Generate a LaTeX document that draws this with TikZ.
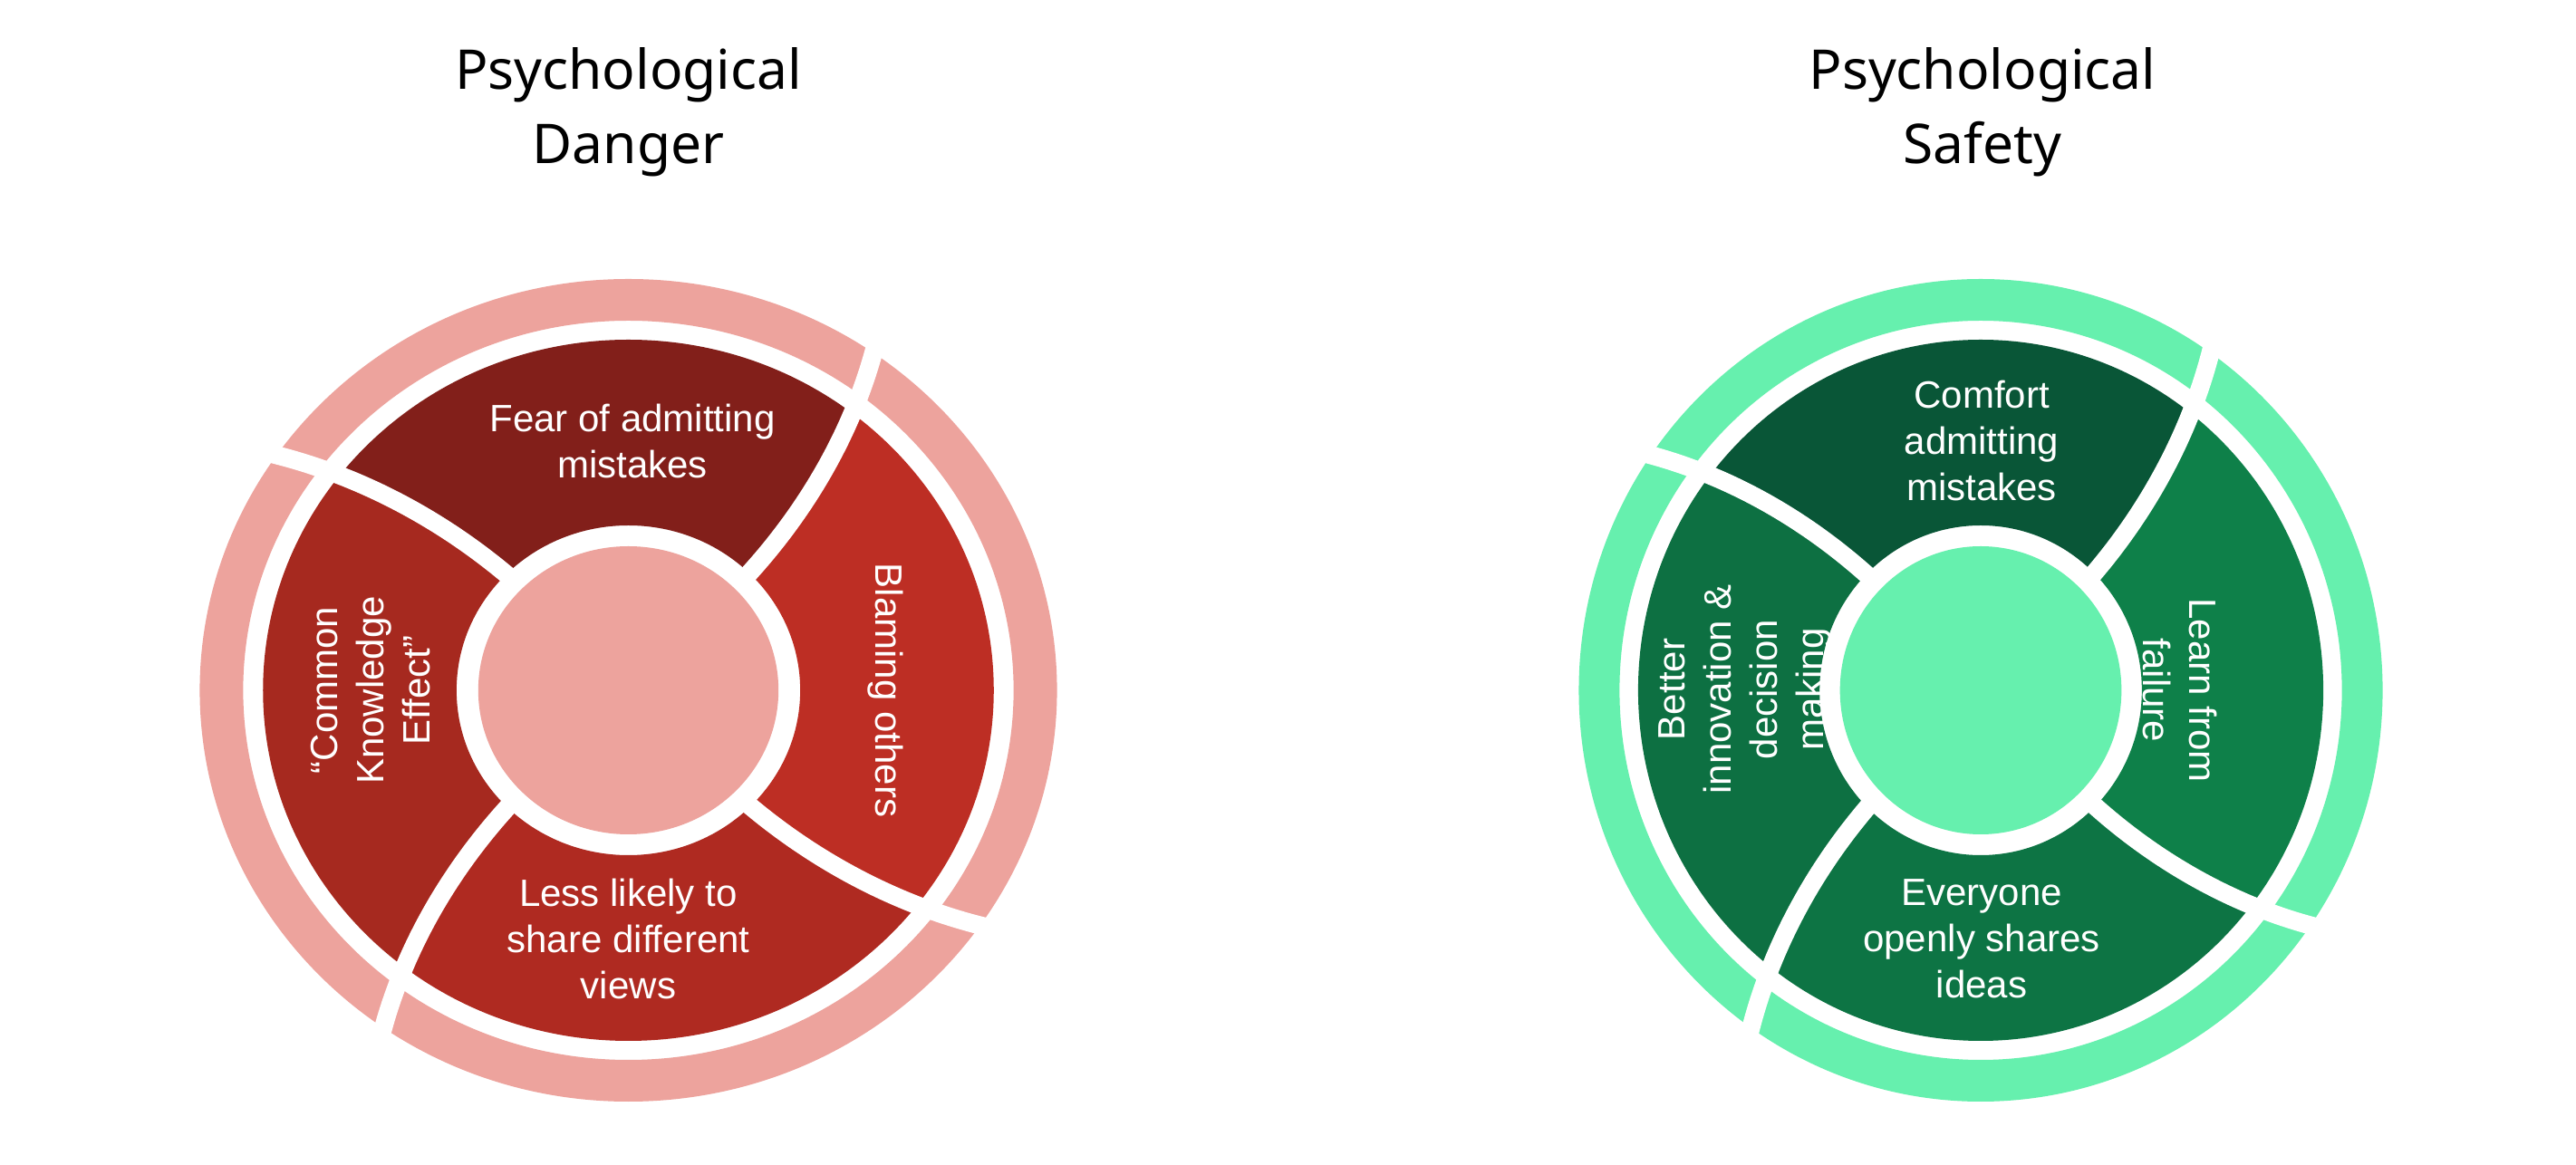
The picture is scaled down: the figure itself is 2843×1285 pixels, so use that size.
\documentclass[tikz,border=0pt]{standalone}
\usepackage{fontspec}
\newfontfamily\titlefont{Noto Sans}
\newfontfamily\segfont{Liberation Sans}
\definecolor{dlight}{HTML}{EDA39D}
\definecolor{dtop}{HTML}{821F1A}
\definecolor{dleft}{HTML}{A6291F}
\definecolor{dbottom}{HTML}{AF2A21}
\definecolor{dright}{HTML}{BD2E24}
\definecolor{slight}{HTML}{66F0AE}
\definecolor{stop}{HTML}{095637}
\definecolor{sleft}{HTML}{0D7042}
\definecolor{sbottom}{HTML}{0D7444}
\definecolor{sright}{HTML}{0E8049}
\newcommand\segpath[2]{\fill[#2] (0,0) -- (#1:175) .. controls (#1+1.07:272.1) and (#1+5.25:372.5) .. (#1+10.5:462) arc[start angle=#1+10.5, end angle=#1+100.5, radius=462] .. controls (#1+95.25:372.5) and (#1+91.07:272.1) .. (#1+90:175) -- cycle;}
\newcommand\divpath[1]{\draw[divider] (#1:168) .. controls (#1+1.07:272.1) and (#1+5.25:372.5) .. (#1+10.5:462) -- ++(#1+31:22);}
\newcommand\mywheel[5]{%
  \fill[#1, even odd rule] (0,0) circle[radius=454] (0,0) circle[radius=408];
  \begin{scope}[even odd rule]
    \clip (0,0) circle[radius=387] (0,0) circle[radius=182];
    \segpath{45}{#2}
    \segpath{135}{#3}
    \segpath{225}{#4}
    \segpath{315}{#5}
  \end{scope}
  \fill[#1] (0,0) circle[radius=159];
  \foreach \t in {45,135,225,315} {\divpath{\t}}
}
\begin{document}
\begin{tikzpicture}[x=0.01cm,y=0.01cm,
  divider/.style={draw=white, line width=5.7pt},
  segtext/.style={text=white, font=\segfont\fontsize{11.95}{14.5}\selectfont, align=center, inner sep=0pt},
  titletext/.style={text=black, font=\titlefont\fontsize{17.2}{23.3}\selectfont, align=center, inner sep=0pt}]
\useasboundingbox (0,0) rectangle (2843,1285);
\fill[white] (0,0) rectangle (2843,1285);

\begin{scope}[shift={(693.5,523)}, xscale=1.042]
  \mywheel{dlight}{dtop}{dleft}{dbottom}{dright}
\end{scope}
\begin{scope}[shift={(2186,523)}, xscale=0.977]
  \mywheel{slight}{stop}{sleft}{sbottom}{sright}
\end{scope}

\node[titletext] (t1) at (693.5,1161) {Psychological\\Danger};
\node[titletext] (t2) at (2188,1161) {Psychological\\Safety};

\node[segtext] (l1) at (698,798) {Fear of admitting\\mistakes};
\node[segtext, rotate=-90] (l2) at (977,523) {Blaming others};
\node[segtext] (l3) at (693.5,249) {Less likely to\\share different\\views};
\node[segtext, rotate=90] (l4) at (409,523) {“Common\\Knowledge\\Effect”};

\node[segtext] (r1) at (2187,798) {Comfort\\admitting\\mistakes};
\node[segtext, rotate=-90] (r2) at (2406,523) {Learn from\\failure};
\node[segtext] (r3) at (2187,249) {Everyone\\openly shares\\ideas};
\node[segtext, rotate=90] (r4) at (1926,524) {Better\\innovation \&\\decision\\making};
\end{tikzpicture}
\end{document}
